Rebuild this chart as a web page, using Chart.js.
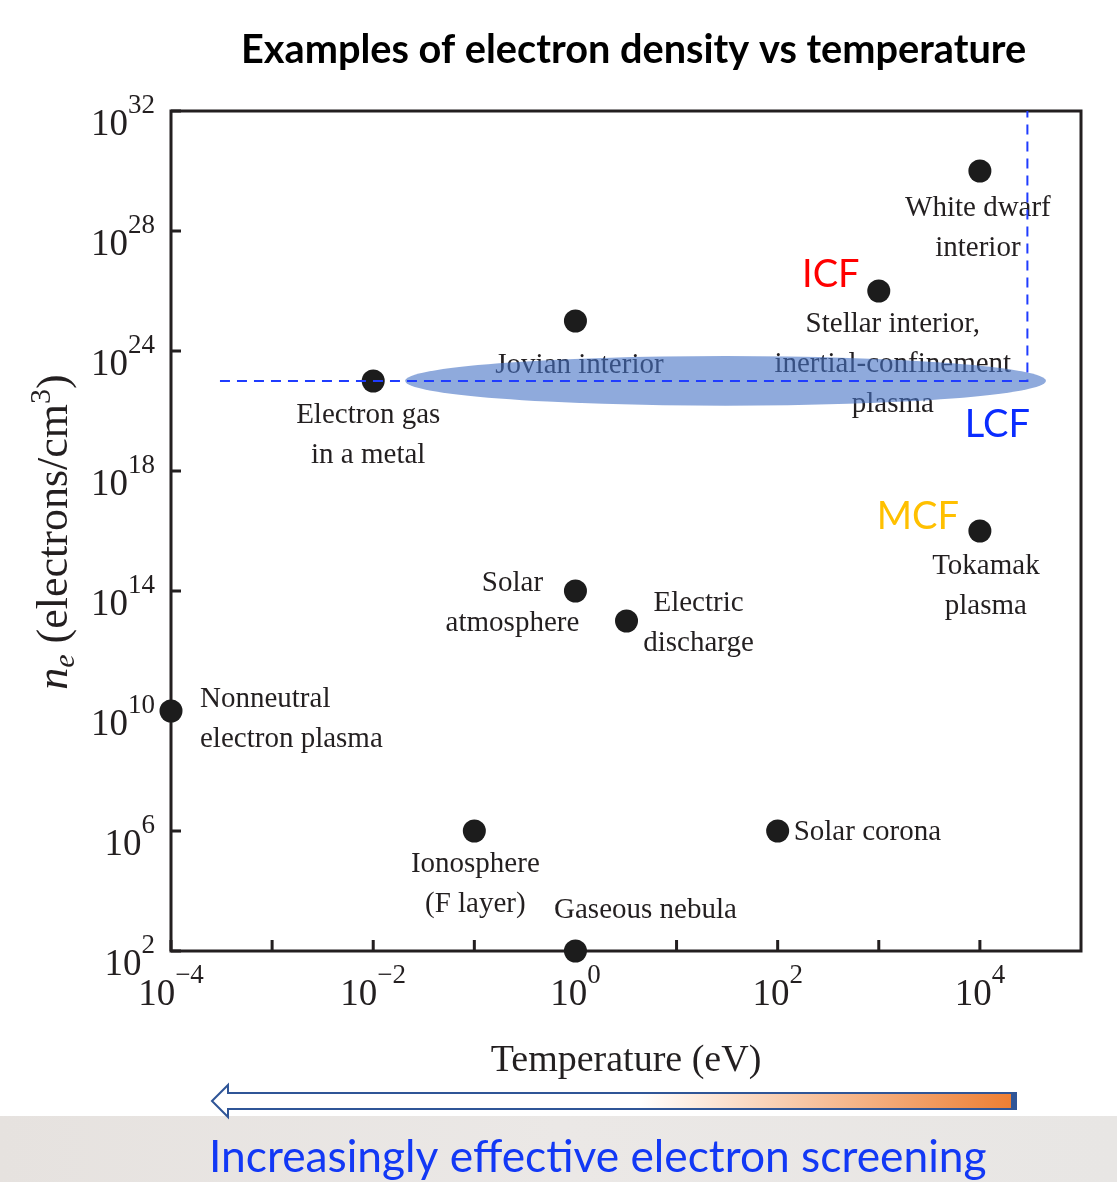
<!DOCTYPE html>
<html>
<head>
<meta charset="utf-8">
<script src="https://cdn.jsdelivr.net/npm/chart.js@4.4.1/dist/chart.umd.min.js"></script>
<style>
  body { margin: 0; background: #fff; }
  #wrap { width: 1117px; height: 1182px; }
</style>
</head>
<body>
<div id="wrap"><canvas id="plasmaChart" width="1117" height="1182"></canvas></div>
<script>
// plasma examples
var names = [
    "Nonneutral\nelectron plasma",
    "Electron gas\nin a metal",
    "Jovian interior",
    "Solar\natmosphere",
    "Electric\ndischarge",
    "Ionosphere\n(F layer)",
    "Gaseous nebula",
    "Solar corona",
    "Stellar interior,\ninertial-confinement\nplasma",
    "White dwarf\ninterior",
    "Tokamak\nplasma"
];
var temperatureEV = [1e-4, 1e-2, 1, 1, 3.2, 0.1, 1, 100, 1000, 1e4, 1e4];
var densityCm3 = [1e10, 1e21, 1e23, 1e14, 1e13, 1e6, 1e2, 1e6, 1e24, 1e28, 1e16];

// axis ticks (y axis printed labels are evenly spaced as in the figure)
var xTickValues = [1e-4, 1e-3, 1e-2, 1e-1, 1, 10, 100, 1000, 1e4];
var xTickLabels = ["\u22124", "", "\u22122", "", "0", "", "2", "", "4"];
var yTickValues = [1e2, 1e6, 1e10, 1e14, 1e18, 1e22, 1e26, 1e30];
var yTickLabels = ["2", "6", "10", "14", "18", "24", "28", "32"];

// LCF guide line and band
var lcfLine = [{x: 3.05e-4, y: 1e21}, {x: 2.95e4, y: 1e21}, {x: 2.95e4, y: 1e30}];
var lcfBandX = [2.07e-2, 4.5e4];
var lcfBandY = [1.5e20, 6.8e21];

// label placement, pixels from each point: [dx, first baseline dy, align]
var labelPlace = [
    [29, -4, "left"], [-5, 42, "center"], [4, 52, "center"], [-63, 0, "center"],
    [72, -10, "center"], [1, 41, "center"], [70, -33, "center"], [16, 9, "left"],
    [14, 41, "center"], [-2, 45, "center"], [6, 43, "center"]
];

var points = [];
for (var i = 0; i < names.length; i++) {
    points.push({x: temperatureEV[i], y: densityCm3[i]});
}

var SERIF = "'Liberation Serif', 'DejaVu Serif', serif";
var INK = "#231f20";

function drawPower(ctx, exp, x, baseY, align) {
    ctx.font = "37px " + SERIF;
    var wb = ctx.measureText("10").width;
    ctx.font = "27px " + SERIF;
    var we = ctx.measureText(exp).width;
    var start = align == "center" ? x - (wb + we) / 2 : x - wb - we;
    ctx.textAlign = "left";
    ctx.textBaseline = "alphabetic";
    ctx.fillStyle = INK;
    ctx.font = "37px " + SERIF;
    ctx.fillText("10", start, baseY);
    ctx.font = "27px " + SERIF;
    ctx.fillText(exp, start + wb, baseY - 22);
}

function fitFont(ctx, text, style, family, width) {
    ctx.font = style + " 40px " + family;
    var w = ctx.measureText(text).width;
    return style + " " + (40 * width / w).toFixed(1) + "px " + family;
}

var decorations = {
    id: "decorations",
    beforeDraw: function(chart) {
        var ctx = chart.ctx;
        var W = chart.width, H = chart.height;
        ctx.save();
        ctx.fillStyle = "#ffffff";
        ctx.fillRect(0, 0, W, H);

        // bottom band
        var band = ctx.createLinearGradient(0, 0, W, 0);
        band.addColorStop(0, "#e6e2df");
        band.addColorStop(0.5, "#ebe8e6");
        band.addColorStop(1, "#e8e6e4");
        ctx.fillStyle = band;
        ctx.fillRect(0, 1116, W, H - 1116);

        // title
        var title = "Examples of electron density vs temperature";
        ctx.font = fitFont(ctx, title, "bold", "Lato, 'Open Sans', sans-serif", 786);
        ctx.fillStyle = "#000";
        ctx.textAlign = "left";
        ctx.textBaseline = "alphabetic";
        ctx.fillText(title, 241, 63);

        // x axis title
        ctx.font = "38px " + SERIF;
        ctx.fillStyle = INK;
        ctx.textAlign = "center";
        ctx.fillText("Temperature (eV)", 626, 1071);

        // y axis title
        ctx.save();
        ctx.translate(67, 532);
        ctx.rotate(-Math.PI / 2);
        var segs = [
            ["italic 44px " + SERIF, "n", 0],
            ["italic 30px " + SERIF, "e", 7],
            ["44px " + SERIF, " (electrons/cm", 0],
            ["30px " + SERIF, "3", -17],
            ["44px " + SERIF, ")", 0]
        ];
        var total = 0;
        segs.forEach(function(s) { ctx.font = s[0]; total += ctx.measureText(s[1]).width; });
        var cx = -total / 2;
        ctx.textAlign = "left";
        segs.forEach(function(s) {
            ctx.font = s[0];
            ctx.fillText(s[1], cx, s[2]);
            cx += ctx.measureText(s[1]).width;
        });
        ctx.restore();

        // tick labels
        var xs = chart.scales.x, ys = chart.scales.y;
        xTickValues.forEach(function(v, k) {
            if (xTickLabels[k]) drawPower(ctx, xTickLabels[k], xs.getPixelForValue(v), 1005, "center");
        });
        yTickValues.forEach(function(v, k) {
            drawPower(ctx, yTickLabels[k], 155, ys.getPixelForValue(v) + 24, "right");
        });

        // screening arrow
        var grad = ctx.createLinearGradient(228, 0, 1016, 0);
        grad.addColorStop(0, "#ffffff");
        grad.addColorStop(0.52, "#ffffff");
        grad.addColorStop(1, "#ed7d31");
        ctx.beginPath();
        ctx.moveTo(212, 1101);
        ctx.lineTo(228, 1085);
        ctx.lineTo(228, 1093);
        ctx.lineTo(1016, 1093);
        ctx.lineTo(1016, 1109);
        ctx.lineTo(228, 1109);
        ctx.lineTo(228, 1117);
        ctx.closePath();
        ctx.fillStyle = grad;
        ctx.fill();
        ctx.lineWidth = 2;
        ctx.strokeStyle = "#2f5597";
        ctx.stroke();
        ctx.fillStyle = "#2f5597";
        ctx.fillRect(1011, 1092, 6, 18);

        // caption
        var caption = "Increasingly effective electron screening";
        ctx.font = fitFont(ctx, caption, "normal", "Lato, 'Open Sans', sans-serif", 778);
        ctx.fillStyle = "#1238f5";
        ctx.textAlign = "left";
        ctx.fillText(caption, 209, 1172);
        ctx.restore();
    },
    beforeDatasetsDraw: function(chart) {
        var ctx = chart.ctx;
        var xs = chart.scales.x, ys = chart.scales.y;
        var area = chart.chartArea;
        ctx.save();

        // point labels
        ctx.font = "29px " + SERIF;
        ctx.fillStyle = INK;
        ctx.textBaseline = "alphabetic";
        names.forEach(function(name, k) {
            var px = xs.getPixelForValue(temperatureEV[k]);
            var py = ys.getPixelForValue(densityCm3[k]);
            var p = labelPlace[k];
            ctx.textAlign = p[2];
            name.split("\n").forEach(function(line, j) {
                ctx.fillText(line, px + p[0], py + p[1] + j * 40);
            });
        });

        // LCF band
        var x0 = xs.getPixelForValue(lcfBandX[0]), x1 = xs.getPixelForValue(lcfBandX[1]);
        var y0 = ys.getPixelForValue(lcfBandY[1]), y1 = ys.getPixelForValue(lcfBandY[0]);
        ctx.beginPath();
        ctx.ellipse((x0 + x1) / 2, (y0 + y1) / 2, (x1 - x0) / 2, (y1 - y0) / 2, 0, 0, Math.PI * 2);
        ctx.fillStyle = "rgba(68,114,196,0.6)";
        ctx.fill();

        // frame and inward ticks
        ctx.strokeStyle = INK;
        ctx.lineWidth = 3;
        ctx.strokeRect(area.left, area.top, area.right - area.left, area.bottom - area.top);
        ctx.beginPath();
        xTickValues.forEach(function(v) {
            var x = xs.getPixelForValue(v);
            ctx.moveTo(x, area.bottom);
            ctx.lineTo(x, area.bottom - 11);
        });
        yTickValues.forEach(function(v) {
            var y = ys.getPixelForValue(v);
            ctx.moveTo(area.left, y);
            ctx.lineTo(area.left + 10, y);
        });
        ctx.stroke();
        ctx.restore();
    },
    afterDatasetsDraw: function(chart) {
        var ctx = chart.ctx;
        var xs = chart.scales.x, ys = chart.scales.y;
        ctx.save();
        ctx.font = "38px Lato, 'Open Sans', sans-serif";
        ctx.textAlign = "center";
        ctx.textBaseline = "alphabetic";
        var sx = xs.getPixelForValue(temperatureEV[8]), sy = ys.getPixelForValue(densityCm3[8]);
        ctx.fillStyle = "#ff0000";
        ctx.fillText("ICF", sx - 48, sy - 4);
        var lx = xs.getPixelForValue(lcfLine[1].x), ly = ys.getPixelForValue(lcfLine[1].y);
        ctx.fillStyle = "#0a2cff";
        ctx.fillText("LCF", lx - 30, ly + 56);
        var tx = xs.getPixelForValue(temperatureEV[10]), ty = ys.getPixelForValue(densityCm3[10]);
        ctx.fillStyle = "#ffc000";
        ctx.fillText("MCF", tx - 62, ty - 2);
        ctx.restore();
    }
};

var chart = new Chart(document.getElementById("plasmaChart"), {
    type: "scatter",
    data: {
        datasets: [{
            label: "LCF",
            type: "line",
            data: lcfLine,
            borderColor: "#1f3cff",
            borderWidth: 2,
            borderDash: [10, 7],
            pointRadius: 0,
            fill: false,
            tension: 0,
            clip: false,
            order: 0
        }, {
            label: "plasmas",
            data: points,
            pointRadius: 11.5,
            pointHoverRadius: 11.5,
            backgroundColor: "#1c1c1c",
            borderWidth: 0,
            clip: false,
            order: 1
        }]
    },
    options: {
        responsive: false,
        animation: false,
        layout: { padding: { left: 171, right: 36, top: 111, bottom: 231 } },
        plugins: {
            legend: { display: false },
            tooltip: { enabled: false }
        },
        scales: {
            x: { type: "logarithmic", min: 1e-4, max: 1e5, display: false },
            y: { type: "logarithmic", min: 1e2, max: 1e30, display: false }
        }
    },
    plugins: [decorations]
});
</script>
</body>
</html>
